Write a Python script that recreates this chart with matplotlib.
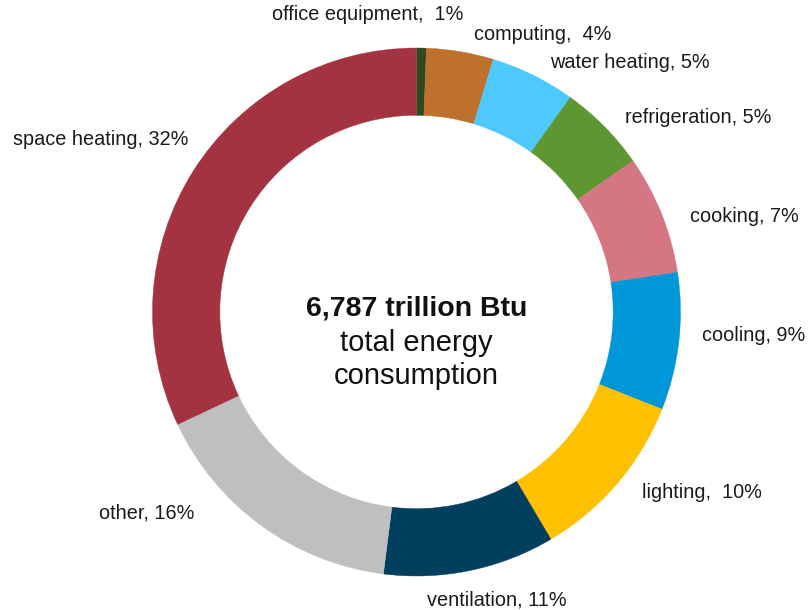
import matplotlib
matplotlib.use("Agg")
import matplotlib.pyplot as plt

plt.rcParams['font.family'] = ['Liberation Sans', 'DejaVu Sans']

categories = ["office equipment", "computing", "water heating", "refrigeration", "cooking",
              "cooling", "lighting", "ventilation", "other", "space heating"]
values = [0.6, 4.1, 5.2, 5.4, 7.3, 8.4, 10.5, 10.5, 16.0, 32.0]
labels = ["office equipment,  1%", "computing,  4%", "water heating, 5%", "refrigeration, 5%",
          "cooking, 7%", "cooling, 9%", "lighting,  10%", "ventilation, 11%", "other, 16%",
          "space heating, 32%"]
colors = ["#2e4a1e", "#bd712c", "#4dc9ff", "#5e9732", "#d57782",
          "#0097d9", "#ffc000", "#003f5e", "#bfbfbf", "#a33340"]
# label anchor positions in pixels (left, vertical center)
label_pos = [(272, 15), (474, 35), (550, 63), (625, 117), (690, 216),
             (702, 335), (642, 493), (427, 600), (99, 513), (13, 139)]

W, H = 810, 610
fig = plt.figure(figsize=(W / 100, H / 100), dpi=100)
cx, cy, R = 416.5, 312, 264
ax = fig.add_axes([(cx - R) / W, (H - cy - R) / H, 2 * R / W, 2 * R / H])
wedges, _ = ax.pie(values, colors=colors, startangle=90, counterclock=False, radius=1,
                   wedgeprops=dict(width=0.255, linewidth=0.3))
for w in wedges:
    w.set_edgecolor(w.get_facecolor())
ax.set_xlim(-1, 1)
ax.set_ylim(-1, 1)
ax.set_aspect('equal')
ax.axis('off')

for lab, (px, py) in zip(labels, label_pos):
    fig.text(px / W, 1 - py / H, lab, ha='left', va='center', fontsize=14.3, color='#1a1a1a')

fig.text(cx / W, 1 - 308 / H, "6,787 trillion Btu", ha='center', va='center',
         fontsize=20.5, fontweight='bold', color='#111111')
fig.text(cx / W, 1 - 343 / H, "total energy", ha='center', va='center',
         fontsize=21, color='#111111')
fig.text(cx / W, 1 - 376 / H, "consumption", ha='center', va='center',
         fontsize=21, color='#111111')

fig.savefig("out.png", dpi=100, facecolor='white')
